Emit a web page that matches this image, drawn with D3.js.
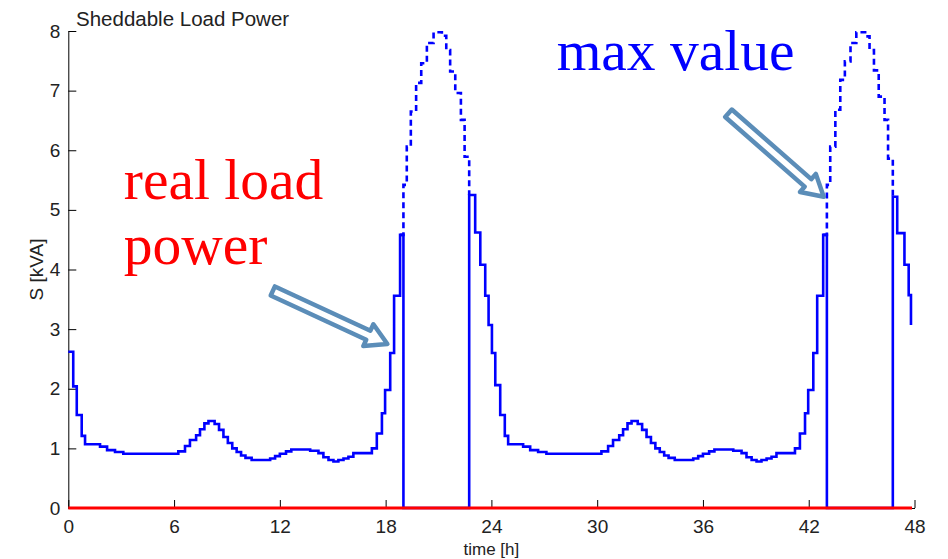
<!DOCTYPE html>
<html>
<head>
<meta charset="utf-8">
<script src="https://cdn.jsdelivr.net/npm/d3@7"></script>
<style>
  html, body { margin: 0; padding: 0; background: #fff; }
  svg { display: block; }
</style>
</head>
<body>
<div id="chart"></div>
<script>
// real load power, stairs breakpoints (hour the step starts, kVA)
const loadHours = [
  0, 0.28, 0.48, 0.76, 0.95, 1.8, 2.2, 2.65, 3.12, 6.24, 6.62, 6.9, 7.25, 7.47, 7.72, 7.95,
  8.3, 8.55, 8.8, 9.05, 9.3, 9.55, 9.8, 10.05, 10.4, 11.45, 11.73, 12.0, 12.35, 12.65, 13.72,
  14.19, 14.47, 14.76, 15.04, 15.32, 15.61, 15.89, 16.17, 17.22, 17.5, 17.79, 17.97, 18.26,
  18.48, 18.82, 19.01, 22.74, 23.08, 23.37, 23.65, 23.84,
  24.03, 24.22, 24.5, 24.76, 24.95, 25.8, 26.2, 26.65, 27.12, 30.24, 30.62, 30.9, 31.25, 31.47,
  31.72, 31.95, 32.3, 32.55, 32.8, 33.05, 33.3, 33.55, 33.8, 34.05, 34.4, 35.45, 35.73, 36.0,
  36.35, 36.65, 37.72, 38.19, 38.47, 38.76, 39.04, 39.32, 39.61, 39.89, 40.17, 41.22, 41.5,
  41.79, 41.97, 42.26, 42.48, 42.82, 43.03, 46.77, 47.02, 47.43, 47.67, 47.8
];
const loadKVA = [
  2.62, 2.04, 1.56, 1.21, 1.07, 1.03, 0.97, 0.94, 0.91, 0.95, 1.04, 1.14, 1.22, 1.32, 1.42, 1.46,
  1.41, 1.31, 1.19, 1.09, 1.0, 0.94, 0.88, 0.84, 0.805, 0.83, 0.87, 0.91, 0.95, 0.98, 0.96,
  0.92, 0.85, 0.805, 0.78, 0.805, 0.83, 0.86, 0.92, 1.0, 1.25, 1.59, 1.98, 2.6,
  3.56, 4.58, 0, 5.25, 4.62, 4.08, 3.56, 3.07,
  2.6, 2.06, 1.56, 1.21, 1.07, 1.03, 0.97, 0.94, 0.91, 0.95, 1.04, 1.14, 1.22, 1.32,
  1.42, 1.46, 1.41, 1.31, 1.19, 1.09, 1.0, 0.94, 0.88, 0.84, 0.805, 0.83, 0.87, 0.91,
  0.95, 0.98, 0.96, 0.92, 0.85, 0.805, 0.78, 0.805, 0.83, 0.86, 0.92, 1.0, 1.25,
  1.59, 1.98, 2.6, 3.56, 4.58, 0, 5.22, 4.61, 4.08, 3.57, 3.07
];

// max value during the shed windows (dashed)
const maxDay1Hours = [18.82, 19.01, 19.2, 19.43, 19.73, 20.02, 20.34, 20.72, 21.19, 21.44, 21.66, 21.95, 22.27, 22.48, 22.74];
const maxDay1KVA   = [4.58, 5.42, 6.06, 6.65, 7.13, 7.46, 7.8, 7.98, 7.92, 7.68, 7.32, 6.96, 6.51, 5.89, 5.25];
const maxDay2Hours = [42.82, 43.03, 43.22, 43.51, 43.79, 44.05, 44.37, 44.7, 45.2, 45.45, 45.7, 45.97, 46.3, 46.5, 46.77];
const maxDay2KVA   = [4.58, 5.42, 6.06, 6.68, 7.18, 7.49, 7.8, 7.98, 7.91, 7.68, 7.34, 6.9, 6.51, 5.86, 5.22];

// red line on the zero level
const redHours = [0, 47.86];
const redKVA = [0, 0];

const xTicks = [0, 6, 12, 18, 24, 30, 36, 42, 48];
const yTicks = [0, 1, 2, 3, 4, 5, 6, 7, 8];

// annotations in data units: [hour, kVA]
const noteRealLoad = [[3.15, 5.18, 'real load'], [3.15, 4.1, 'power']];
const noteMaxValue = [[27.7, 7.35, 'max value']];
const arrowRealLoad = [[11.6, 3.64], [18.1, 2.75]];
const arrowMaxValue = [[37.45, 6.62], [42.85, 5.22]];

const width = 948, height = 559;
const margin = { top: 31, right: 33.5, bottom: 51, left: 68.3 };

const svg = d3.select('#chart').append('svg')
  .attr('width', width)
  .attr('height', height);

const x = d3.scaleLinear().domain([0, 48]).range([margin.left, width - margin.right]);
const y = d3.scaleLinear().domain([0, 8]).range([height - margin.bottom, margin.top]);

const tickFont = '"Liberation Sans", Arial, Helvetica, sans-serif';

// axes, ticks pointing inward like matlab
const yAxis = svg.append('g')
  .attr('transform', 'translate(' + margin.left + ',0)')
  .call(d3.axisLeft(y).tickValues(yTicks).tickSize(-8).tickSizeOuter(0).tickPadding(8));

const xAxis = svg.append('g')
  .attr('transform', 'translate(0,' + (height - margin.bottom) + ')')
  .call(d3.axisBottom(x).tickValues(xTicks).tickSize(-8).tickSizeOuter(0).tickPadding(12));

[yAxis, xAxis].forEach(function (g) {
  g.selectAll('path, line').attr('stroke', '#000').attr('stroke-width', 1);
  g.selectAll('text')
    .attr('fill', '#222')
    .style('font-family', tickFont)
    .style('font-size', '19px');
});

// curves
const stairs = d3.line()
  .x(function (d) { return x(d[0]); })
  .y(function (d) { return y(d[1]); })
  .curve(d3.curveStepAfter);

function pairs(hours, vals) {
  return hours.map(function (h, i) { return [h, vals[i]]; });
}

svg.append('path')
  .datum(pairs(loadHours, loadKVA))
  .attr('d', stairs)
  .attr('fill', 'none')
  .attr('stroke', '#0000ff')
  .attr('stroke-width', 2.6);

[pairs(maxDay1Hours, maxDay1KVA), pairs(maxDay2Hours, maxDay2KVA)].forEach(function (d) {
  svg.append('path')
    .datum(d)
    .attr('d', stairs)
    .attr('fill', 'none')
    .attr('stroke', '#0000ff')
    .attr('stroke-width', 2.6)
    .attr('stroke-dasharray', '6,4');
});

svg.append('path')
  .datum(pairs(redHours, redKVA))
  .attr('d', stairs)
  .attr('fill', 'none')
  .attr('stroke', '#ff0000')
  .attr('stroke-width', 3);

// titles
svg.append('text')
  .attr('x', 76)
  .attr('y', 26)
  .attr('fill', '#222')
  .style('font-family', tickFont)
  .style('font-size', '20.5px')
  .text('Sheddable Load Power');

svg.append('text')
  .attr('transform', 'translate(43,' + y(4) + ') rotate(-90)')
  .attr('text-anchor', 'middle')
  .attr('fill', '#222')
  .style('font-family', tickFont)
  .style('font-size', '19px')
  .text('S [kVA]');

// the reference crops this label at the bottom edge; kept just inside here
svg.append('text')
  .attr('x', x(24))
  .attr('y', height - 4)
  .attr('text-anchor', 'middle')
  .attr('fill', '#222')
  .style('font-family', tickFont)
  .style('font-size', '17px')
  .text('time [h]');

// annotations
const serif = '"Liberation Serif", "Times New Roman", serif';

function note(list, color) {
  svg.selectAll(null)
    .data(list)
    .enter().append('text')
    .attr('x', function (d) { return x(d[0]); })
    .attr('y', function (d) { return y(d[1]); })
    .attr('fill', color)
    .style('font-family', serif)
    .style('font-size', '57.5px')
    .text(function (d) { return d[2]; });
}
note(noteRealLoad, '#ff0000');
note(noteMaxValue, '#0000ff');

function blockArrow(ends) {
  const x1 = x(ends[0][0]), y1 = y(ends[0][1]);
  const x2 = x(ends[1][0]), y2 = y(ends[1][1]);
  const len = Math.hypot(x2 - x1, y2 - y1);
  const ang = Math.atan2(y2 - y1, x2 - x1) * 180 / Math.PI;
  const w = 5, hw = 12, hl = 21;
  const pts = [[0, -w], [len - hl, -w], [len - hl, -hw], [len, 0], [len - hl, hw], [len - hl, w], [0, w]];
  svg.append('polygon')
    .attr('points', pts.map(function (p) { return p.join(','); }).join(' '))
    .attr('transform', 'translate(' + x1 + ',' + y1 + ') rotate(' + ang + ')')
    .attr('fill', '#fff')
    .attr('stroke', '#5b8db8')
    .attr('stroke-width', 4.5)
    .attr('stroke-linejoin', 'round');
}
blockArrow(arrowRealLoad);
blockArrow(arrowMaxValue);
</script>
</body>
</html>
